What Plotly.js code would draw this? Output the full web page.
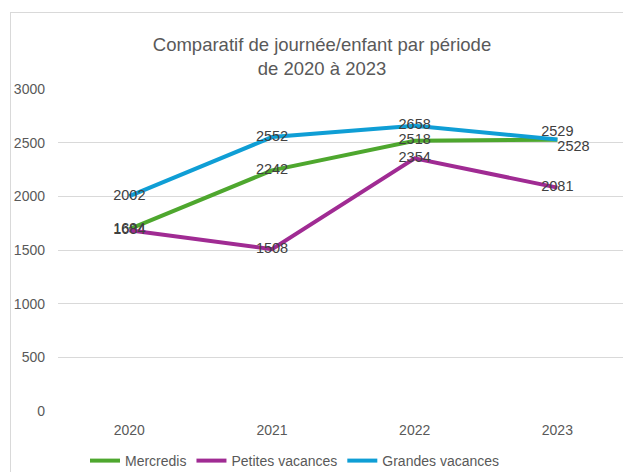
<!DOCTYPE html>
<html><head><meta charset="utf-8">
<script src="https://cdn.plot.ly/plotly-3.0.1.min.js"></script>
<style>html,body{margin:0;padding:0;background:#fff;}#chart{width:623px;height:472px;}</style>
</head><body><div id="chart"></div>
<script>
const years = ['2020', '2021', '2022', '2023'];
const mercredis = [1694, 2242, 2518, 2528];
const petitesVacances = [1684, 1508, 2354, 2081];
const grandesVacances = [2002, 2552, 2658, 2529];
const seriesNames = ['Mercredis', 'Petites vacances', 'Grandes vacances'];
const yTicks = [0, 500, 1000, 1500, 2000, 2500, 3000];

const W = 623, H = 472;
const mL = 58, mR = 0, mT = 89, mB = 61;
const pw = W - mL - mR, ph = H - mT - mB;
const px = v => (v - mL) / pw;
const py = v => (H - mB - v) / ph;

const labelFont = {family: 'Liberation Sans, Arial, sans-serif', size: 14.5, color: '#404040'};
function tr(name, y, color, pos) {
  return {
    x: years, y: y, name: name, type: 'scatter', mode: 'lines+text',
    line: {color: color, width: 4},
    text: y.map(String), textposition: pos, textfont: labelFont,
    cliponaxis: false, hoverinfo: 'x+y+name'
  };
}
const data = [
  tr(seriesNames[0], mercredis, '#4EA72E', ['middle center','middle center','middle center','bottom right']),
  tr(seriesNames[1], petitesVacances, '#A02B93', 'middle center'),
  tr(seriesNames[2], grandesVacances, '#0F9ED5', ['middle center','middle center','middle center','top center'])
];
const layout = {
  width: W, height: H,
  margin: {l: mL, r: mR, t: mT, b: mB, pad: 0, autoexpand: false},
  paper_bgcolor: '#ffffff', plot_bgcolor: '#ffffff',
  font: {family: 'Liberation Sans, Arial, sans-serif', color: '#595959'},
  title: {
    text: 'Comparatif de journée/enfant par période<br>de 2020 à 2023',
    xref: 'paper', xanchor: 'center', yref: 'container', y: 1 - 51 / H, yanchor: 'top',
    font: {size: 18.5, color: '#595959'}
  },
  xaxis: {
    type: 'category', range: [-0.5, 3.46], showgrid: false, zeroline: false,
    showline: false, ticks: '', tickfont: {size: 14, color: '#595959'},
    ticklabelstandoff: 9, fixedrange: true
  },
  yaxis: {
    range: [0, 3000], tickvals: yTicks, ticktext: yTicks.map(String),
    showgrid: true, gridcolor: '#d9d9d9', gridwidth: 1, zeroline: false,
    showline: false, ticks: '', tickfont: {size: 14, color: '#595959'},
    ticklabelstandoff: 12, fixedrange: true
  },
  showlegend: true,
  legend: {
    orientation: 'h', x: px(85), xanchor: 'left', y: py(461), yanchor: 'middle',
    font: {size: 14, color: '#595959'}, itemwidth: 30, tracegroupgap: 0,
    bgcolor: 'rgba(0,0,0,0)'
  },
  shapes: [
    {type: 'line', xref: 'paper', yref: 'paper', x0: px(10.5), x1: px(10.5), y0: py(12), y1: py(H + 5), line: {color: '#d9d9d9', width: 1}},
    {type: 'line', xref: 'paper', yref: 'paper', x0: px(10.5), x1: px(W + 5), y0: py(12.5), y1: py(12.5), line: {color: '#d9d9d9', width: 1}}
  ]
};
layout.title.x = px(322);
Plotly.newPlot('chart', data, layout, {displayModeBar: false, staticPlot: true});
</script></body></html>
